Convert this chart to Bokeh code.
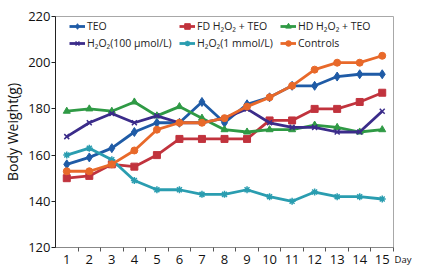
from bokeh.plotting import figure
from bokeh.models import Legend, LegendItem, FixedTicker, LinearAxis, Range1d
from bokeh.embed import file_html
from bokeh.resources import INLINE

days = list(range(1, 16))
day_labels = [str(d) for d in days]
y_ticks = [120, 140, 160, 180, 200, 220]
x_unit_label = "Day"

teo = [156, 159, 163, 170, 174, 174, 183, 174, 182, 185, 190, 190, 194, 195, 195]
fd_teo = [150, 151, 156, 155, 160, 167, 167, 167, 167, 175, 175, 180, 180, 183, 187]
hd_teo = [179, 180, 179, 183, 177, 181, 176, 171, 170, 171, 171, 173, 172, 170, 171]
h2o2_100 = [168, 174, 178, 174, 177, 174, 174, 176, 180, 174, 172, 172, 170, 170, 179]
h2o2_1m = [160, 163, 158, 149, 145, 145, 143, 143, 145, 142, 140, 144, 142, 142, 141]
controls = [153, 153, 156, 162, 171, 174, 174, 176, 181, 185, 190, 197, 200, 200, 203]

FONT = "Open Sans"

p = figure(width=421, height=276, output_backend="svg", toolbar_location=None,
           x_range=Range1d(0.5, 15.5), y_range=Range1d(120, 220),
           min_border_left=54, min_border_right=28, min_border_top=16, min_border_bottom=29)
p.background_fill_color = "white"
p.border_fill_color = "white"
p.outline_line_color = "#a8a8a8"
p.outline_line_width = 1
p.xgrid.visible = False
p.ygrid.visible = False

series = [
    ("TEO", teo, "#1f5ba6", "diamond", 9),
    ("FD H\u2082O\u2082 + TEO", fd_teo, "#c1333d", "square", 7),
    ("HD H\u2082O\u2082 + TEO", hd_teo, "#2f9a45", "triangle", 7),
    ("H\u2082O\u2082(100 \u00b5mol/L)", h2o2_100, "#3b2c8a", "x", 7),
    ("H\u2082O\u2082(1 mmol/L)", h2o2_1m, "#2a9db0", "asterisk", 7),
    ("Controls", controls, "#e8692a", "circle", 7),
]

items = []
for name, vals, color, marker, size in series:
    ln = p.line(days, vals, line_color=color, line_width=2.8)
    if marker in ("x", "asterisk"):
        sc = p.scatter(days, vals, marker=marker, size=size, line_color=color, line_width=1.5)
    else:
        sc = p.scatter(days, vals, marker=marker, size=size, fill_color=color, line_color=color)
    items.append(LegendItem(label=name, renderers=[ln, sc]))

# three legend columns
cols = [(items[0], items[3], 14), (items[1], items[4], 124), (items[2], items[5], 225)]
for a, b, xoff in cols:
    lg = Legend(items=[a, b], location=(xoff, 197), orientation="vertical",
                padding=0, margin=0, spacing=3, label_standoff=2,
                glyph_width=16, glyph_height=14, label_height=14,
                label_text_font=FONT, label_text_font_size="10.5px",
                label_text_color="#222222",
                border_line_color=None, background_fill_alpha=0)
    p.add_layout(lg)

# axes
p.xaxis.ticker = FixedTicker(ticks=days, minor_ticks=[d + 0.5 for d in days])
p.xaxis.major_label_overrides = {d: l for d, l in zip(days, day_labels)}
p.xaxis.major_tick_out = 0
p.xaxis.major_tick_in = 0
p.xaxis.minor_tick_out = 4
p.xaxis.minor_tick_in = 0
p.xaxis.major_label_standoff = 3
p.xaxis.axis_line_color = "#888888"
p.xaxis.minor_tick_line_color = "#555555"
p.xaxis.major_label_text_font = FONT
p.xaxis.major_label_text_font_size = "13px"
p.xaxis.major_label_text_color = "#111111"

p.yaxis.ticker = FixedTicker(ticks=y_ticks)
p.yaxis.major_tick_out = 4
p.yaxis.major_tick_in = 0
p.yaxis.minor_tick_line_color = None
p.yaxis.major_label_standoff = 1
p.yaxis.axis_line_color = "#222222"
p.yaxis.major_tick_line_color = "#222222"
p.yaxis.major_label_text_font = FONT
p.yaxis.major_label_text_font_size = "13px"
p.yaxis.major_label_text_color = "#111111"
p.yaxis.axis_label = "Body Weight(g)"
p.yaxis.axis_label_text_font = FONT
p.yaxis.axis_label_text_font_size = "14px"
p.yaxis.axis_label_text_font_style = "normal"
p.yaxis.axis_label_text_color = "#111111"
p.yaxis.axis_label_standoff = 3

# "Day" unit label next to the end of the x axis, via a bare right-side axis
day_axis = LinearAxis(ticker=FixedTicker(ticks=[y_ticks[0]]),
                      major_label_overrides={y_ticks[0]: "\n\n" + x_unit_label},
                      axis_line_color=None, major_tick_line_color=None,
                      minor_tick_line_color=None, major_tick_out=0, major_tick_in=0,
                      major_label_standoff=1,
                      major_label_text_font=FONT, major_label_text_font_size="9.5px",
                      major_label_text_line_height=0.9,
                      major_label_text_color="#111111")
p.add_layout(day_axis, "right")

open("out.html", "w").write(file_html(p, INLINE))
